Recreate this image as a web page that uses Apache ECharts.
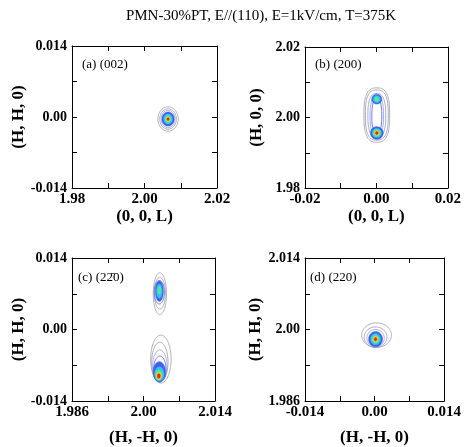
<!DOCTYPE html>
<html><head><meta charset="utf-8">
<script src="https://cdn.jsdelivr.net/npm/echarts@6/dist/echarts.min.js"></script>
<style>html,body{margin:0;padding:0;background:#fff}#c{width:464px;height:447px}</style>
</head><body><div id="c"></div>
<script>
// ---------- data ----------
const chartTitle = 'PMN-30%PT, E//(110), E=1kV/cm, T=375K';
const panelLabels = ['(a) (002)', '(b) (200)', '(c) (22\u03040)', '(d) (220)'];
const xNames = ['(0, 0, L)', '(0, 0, L)', '(H, -H, 0)', '(H, -H, 0)'];
const yNames = ['(H, H, 0)', '(H, 0, 0)', '(H, H, 0)', '(H, H, 0)'];
const xCenters = [2.00, 0, 2.00, 0];
const xHalfRanges = [0.02, 0.02, 0.014, 0.014];
const yCenters = [0, 2.00, 0, 2.00];
const yHalfRanges = [0.014, 0.02, 0.014, 0.014];
const xTickLabels = [['1.98', '2.00', '2.02'], ['-0.02', '0.00', '0.02'], ['1.986', '2.00', '2.014'], ['-0.014', '0.00', '0.014']];
const yTickLabels = [['-0.014', '0.00', '0.014'], ['1.98', '2.00', '2.02'], ['-0.014', '0.00', '0.014'], ['1.986', '2.00', '2.014']];

// contour rings: [centerX, centerY, halfWidthX, halfWidthY, shapeExponent, level]
// level: 0,1 grey lines, 2,3 blue lines, 4 blue, 5 cyan, 6 green, 7 yellow, 8 red (filled)
const contoursA = [
  [2.0065, -0.0004, 0.0028, 0.0024, 2, 0],
  [2.0065, -0.0004, 0.0023, 0.0020, 2, 1],
  [2.0065, -0.0004, 0.0019, 0.0017, 2, 2],
  [2.0065, -0.0004, 0.0017, 0.0014, 2, 4],
  [2.0065, -0.0004, 0.0012, 0.0010, 2, 5],
  [2.0065, -0.0004, 0.0008, 0.0007, 2, 6],
  [2.0065, -0.0004, 0.00055, 0.00045, 2, 7],
  [2.0065, -0.0004, 0.00033, 0.00028, 2, 8]
];
const contoursB = [
  [0.0001, 2.0007, 0.0036, 0.0077, 2.8, 0],
  [0.0001, 2.0007, 0.0032, 0.0071, 2.8, 1],
  [0.0001, 2.0006, 0.0025, 0.0062, 2.6, 2],
  [0.0001, 2.0005, 0.0019, 0.0057, 2.4, 2],
  [0.0001, 2.0004, 0.0014, 0.0052, 2.2, 3],
  [0.0001, 2.0052, 0.0014, 0.0014, 2, 4],
  [0.0001, 2.0052, 0.0010, 0.0010, 2, 5],
  [0.0001, 2.0052, 0.0006, 0.0006, 2, 6],
  [0.0001, 1.9956, 0.0018, 0.0018, 2, 4],
  [0.0001, 1.9956, 0.0013, 0.0013, 2, 5],
  [0.0001, 1.9956, 0.0010, 0.0010, 2, 6],
  [0.0001, 1.9956, 0.00065, 0.00065, 2, 7],
  [0.0001, 1.9956, 0.0004, 0.0004, 2, 8]
];
const contoursC = [
  [2.0032, 0.0070, 0.0013, 0.0041, 2, 0],
  [2.0032, 0.0071, 0.0011, 0.0031, 2, 1],
  [2.0031, 0.0073, 0.0010, 0.0023, 2, 3],
  [2.0031, 0.0075, 0.0008, 0.0020, 2, 4],
  [2.0031, 0.0075, 0.00055, 0.0014, 2, 5],
  [2.0031, 0.0077, 0.0003, 0.0008, 2, 6],
  [2.0034, -0.0058, 0.0020, 0.0047, 2, 0],
  [2.0032, -0.0064, 0.0016, 0.0039, 2, 1],
  [2.0032, -0.0071, 0.0014, 0.0031, 2, 2],
  [2.0032, -0.0077, 0.0012, 0.0025, 2, 3],
  [2.0031, -0.0083, 0.0012, 0.0020, 2, 4],
  [2.0031, -0.0087, 0.0009, 0.0014, 2, 5],
  [2.0030, -0.0089, 0.0007, 0.0010, 2, 6],
  [2.0030, -0.0091, 0.0005, 0.0007, 2, 7],
  [2.0030, -0.0091, 0.0003, 0.00045, 2, 8]
];
const contoursD = [
  [0.0004, 1.9989, 0.0030, 0.0024, 2, 0],
  [0.0002, 1.9985, 0.0023, 0.0020, 2, 1],
  [0.0002, 1.9983, 0.00175, 0.0017, 2, 2],
  [0.0002, 1.9981, 0.0014, 0.0015, 2, 4],
  [0.0002, 1.9981, 0.0010, 0.0011, 2, 5],
  [0.0002, 1.9981, 0.0007, 0.0008, 2, 6],
  [0.0002, 1.9981, 0.00045, 0.00055, 2, 7],
  [0.0002, 1.9981, 0.00027, 0.00033, 2, 8]
];
const allContours = [contoursA, contoursB, contoursC, contoursD];

// ---------- styles ----------
const levelColors = ['#a8a8a8', '#a0a0b8', '#98a0e0', '#5a6ae8', '#4060f0', '#30c4f0', '#58e890', '#f2d030', '#e62a14'];
const FONT = '"Liberation Serif", "Times New Roman", serif';
const gridBoxes = [
  { left: 72, top: 46, width: 145, height: 142 },
  { left: 305, top: 47, width: 145, height: 141 },
  { left: 72, top: 258, width: 143, height: 143 },
  { left: 305, top: 258, width: 144, height: 143 }
];
const xNameGaps = [15, 15, 28, 28];
const labelPos = [[82, 65], [315, 65], [78, 278], [310, 278]];

function labelFormatter(labels, half) {
  return function (v) {
    if (Math.abs(v + half) < half * 1e-6) return labels[0];
    if (Math.abs(v) < half * 1e-6) return labels[1];
    if (Math.abs(v - half) < half * 1e-6) return labels[2];
    return '';
  };
}

function renderRing(params, api) {
  const cx = api.value(0), cy = api.value(1), rx = api.value(2), ry = api.value(3);
  const n = api.value(4), lvl = api.value(5);
  const pts = [];
  const N = 90;
  for (let k = 0; k < N; k++) {
    const t = k / N * 2 * Math.PI;
    const c = Math.cos(t), s = Math.sin(t);
    const px = cx + rx * Math.sign(c) * Math.pow(Math.abs(c), 2 / n);
    const py = cy + ry * Math.sign(s) * Math.pow(Math.abs(s), 2 / n);
    pts.push(api.coord([px, py]));
  }
  const col = levelColors[lvl];
  const filled = lvl >= 4;
  return {
    type: 'polygon',
    shape: { points: pts, smooth: 0 },
    style: filled ? { fill: col, stroke: col, lineWidth: 0.5 } : { fill: null, stroke: col, lineWidth: 0.9 }
  };
}

const grid = [], xAxis = [], yAxis = [], series = [];
for (let i = 0; i < 4; i++) {
  grid.push(gridBoxes[i]);
  const axCommon = {
    axisLine: { show: true, onZero: false, lineStyle: { color: '#000', width: 1 } },
    axisTick: { show: true, inside: true, length: 5, lineStyle: { color: '#000', width: 1 } },
    splitLine: { show: false }
  };
  const xh = xHalfRanges[i], yh = yHalfRanges[i];
  xAxis.push(Object.assign({}, axCommon, {
    type: 'value', gridIndex: i, position: 'bottom', min: -xh, max: xh, interval: xh / 2,
    name: xNames[i], nameLocation: 'middle', nameGap: xNameGaps[i],
    nameTextStyle: { fontFamily: FONT, fontSize: 17, fontWeight: 'bold', color: '#000' },
    axisLabel: { show: true, margin: 4, hideOverlap: false, showMinLabel: true, showMaxLabel: true,
      fontFamily: FONT, fontSize: 15, fontWeight: 'bold', color: '#000',
      formatter: labelFormatter(xTickLabels[i], xh) }
  }));
  xAxis.push(Object.assign({}, axCommon, {
    type: 'value', gridIndex: i, position: 'top', min: -xh, max: xh, interval: xh / 2,
    axisLabel: { show: false }
  }));
  yAxis.push(Object.assign({}, axCommon, {
    type: 'value', gridIndex: i, position: 'left', min: -yh, max: yh, interval: yh / 2,
    name: yNames[i], nameLocation: 'middle', nameGap: 40, nameRotate: 90,
    nameTextStyle: { fontFamily: FONT, fontSize: 17, fontWeight: 'bold', color: '#000' },
    axisLabel: { show: true, margin: 5, hideOverlap: false, showMinLabel: true, showMaxLabel: true,
      fontFamily: FONT, fontSize: 14, fontWeight: 'bold', color: '#000',
      formatter: labelFormatter(yTickLabels[i], yh) }
  }));
  yAxis.push(Object.assign({}, axCommon, {
    type: 'value', gridIndex: i, position: 'right', min: -yh, max: yh, interval: yh / 2,
    axisLabel: { show: false }
  }));
  const xc = xCenters[i], yc = yCenters[i];
  series.push({
    type: 'custom',
    xAxisIndex: 2 * i, yAxisIndex: 2 * i,
    renderItem: renderRing,
    clip: true,
    silent: true,
    encode: { x: 0, y: 1 },
    data: allContours[i].map(r => [r[0] - xc, r[1] - yc, r[2], r[3], r[4], r[5]])
  });
}

const graphic = [{
  type: 'text', x: 261, y: 16,
  style: { text: chartTitle, font: '15px ' + FONT, fill: '#000', textAlign: 'center', textVerticalAlign: 'middle' }
}];
for (let i = 0; i < 4; i++) {
  graphic.push({
    type: 'text', x: labelPos[i][0], y: labelPos[i][1],
    style: { text: panelLabels[i], font: '13px ' + FONT, fill: '#000', textAlign: 'left', textVerticalAlign: 'middle' }
  });
}

const chart = echarts.init(document.getElementById('c'), null, { renderer: 'canvas' });
chart.setOption({
  backgroundColor: '#fff',
  animation: false,
  grid, xAxis, yAxis, series, graphic
});
</script></body></html>
